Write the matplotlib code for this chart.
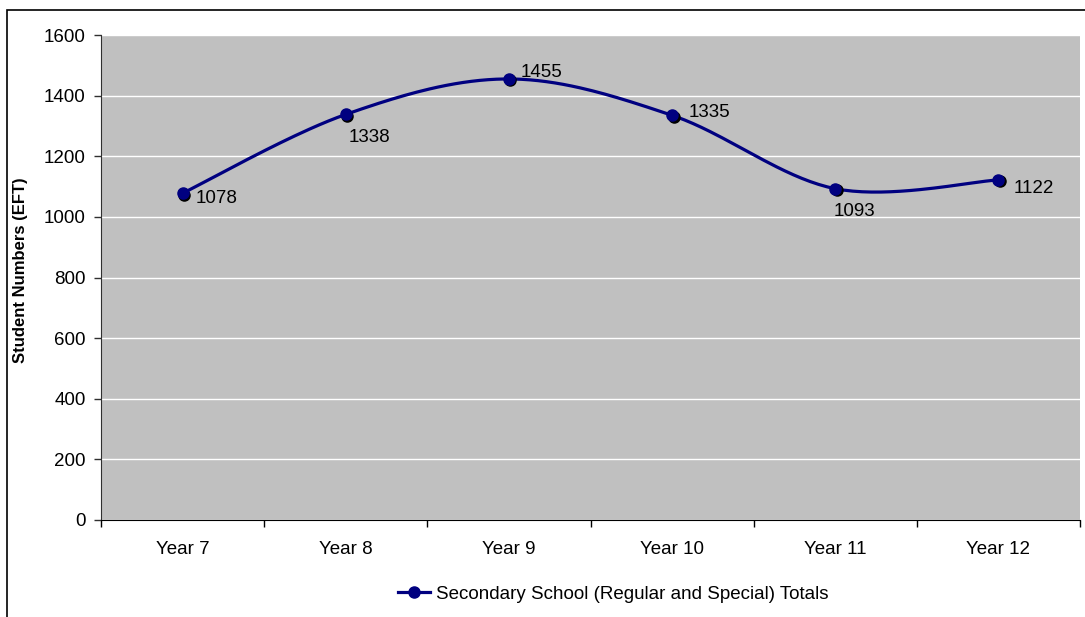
import numpy as np
import matplotlib.pyplot as plt
import matplotlib.transforms as mtransforms
from matplotlib.lines import Line2D
from matplotlib.patches import Rectangle

plt.rcParams['font.family'] = ['Liberation Sans', 'DejaVu Sans']

years = ['Year 7', 'Year 8', 'Year 9', 'Year 10', 'Year 11', 'Year 12']
students = [1078, 1338, 1455, 1335, 1093, 1122]
series_name = 'Secondary School (Regular and Special) Totals'
yticks = [0, 200, 400, 600, 800, 1000, 1200, 1400, 1600]

# label offsets in points, relative to each point
label_offsets = [(9.5, -3.6), (2, -16.5), (8.6, 4.3), (12, 2), (-1.5, -16.5), (11, -6.5)]

navy = '#000080'
fs = 13.5


def smooth(xs, ys, n=40):
    # bezier smoothing through every point, like a spreadsheet "smoothed line"
    pts = np.column_stack([xs, ys]).astype(float)
    out = []
    for i in range(len(pts) - 1):
        p0 = pts[max(i - 1, 0)]
        p1 = pts[i]
        p2 = pts[i + 1]
        p3 = pts[min(i + 2, len(pts) - 1)]
        c1 = p1 + (p2 - p0) / 6.0
        c2 = p2 - (p3 - p1) / 6.0
        t = np.linspace(0, 1, n)[:, None]
        seg = ((1 - t) ** 3) * p1 + 3 * ((1 - t) ** 2) * t * c1 + 3 * (1 - t) * t ** 2 * c2 + t ** 3 * p2
        out.append(seg if i == 0 else seg[1:])
    out = np.vstack(out)
    return out[:, 0], out[:, 1]


fig = plt.figure(figsize=(10.85, 6.17), dpi=100)
fig.patch.set_facecolor('white')

# chart area border
fig.patches.append(Rectangle((7 / 1085, -0.1), 1.2, (617 - 10) / 617 + 0.1,
                             transform=fig.transFigure, fill=False,
                             edgecolor='black', linewidth=1.2))

ax = fig.add_axes([101 / 1085, (617 - 520) / 617, (1080 - 101) / 1085, (520 - 35) / 617])
ax.set_facecolor('#c0c0c0')

x = np.arange(len(years))
sx, sy = smooth(x, students)

ax.set_xlim(-0.5, len(years) - 0.5)
ax.set_ylim(0, 1600)
ax.set_yticks(yticks)
ax.yaxis.grid(True, color='white', linewidth=1)
ax.set_axisbelow(True)

ax.plot(sx, sy, color=navy, linewidth=2.3, solid_capstyle='round', zorder=3)
shadow = ax.transData + mtransforms.ScaledTranslation(1.5 / 100, -1.5 / 100, fig.dpi_scale_trans)
ax.plot(x, students, 'o', color='black', markersize=8, transform=shadow, zorder=4)
ax.plot(x, students, 'o', color=navy, markersize=8, zorder=5)

for xi, v, off in zip(x, students, label_offsets):
    ax.annotate(str(v), xy=(xi, v), xytext=off, textcoords='offset points',
                fontsize=fs, ha='left', va='center', color='black', zorder=6)

ax.set_xticks(x)
ax.set_xticklabels(years, fontsize=fs)
ax.tick_params(axis='x', length=0, pad=15)
ax.set_xticks(np.arange(len(years) + 1) - 0.5, minor=True)
ax.tick_params(axis='x', which='minor', length=5, width=1, color='black', direction='out')
ax.tick_params(axis='y', length=5, width=1, color='#303030', labelsize=fs, pad=6)

for s in ['top', 'right']:
    ax.spines[s].set_visible(False)
ax.spines['left'].set_color('#303030')
ax.spines['bottom'].set_color('black')

ax.set_ylabel('Student Numbers (EFT)', fontsize=12, fontweight='bold')
ax.yaxis.set_label_coords(-73 / 979, (520 - 270) / 485)

handle = Line2D([], [], color=navy, linewidth=2.3, marker='o', markersize=8)
fig.legend([handle], [series_name], loc='center', bbox_to_anchor=(613 / 1085, 1 - 594 / 617),
           frameon=False, fontsize=fs, handlelength=1.7, handletextpad=0.3)

fig.savefig('out.png', dpi=100)
